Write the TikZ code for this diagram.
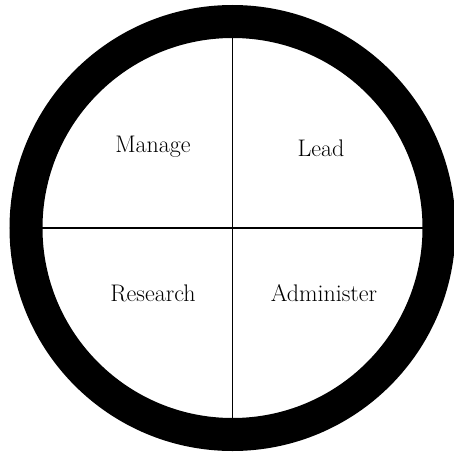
\documentclass[tikz,border=0pt]{standalone}
\begin{document}
\begin{tikzpicture}[x=1pt, y=-1pt]
    \tikzset{quadlabel/.style={font=\fontsize{24}{28}\selectfont}}
    \useasboundingbox (0,0) rectangle (453,455);
    % Tâm và các đầu mút của hai đường chia
    \coordinate (O) at (232.5,228);
    \coordinate (T) at (232.5,30);
    \coordinate (B) at (232.5,426);
    \coordinate (L) at (34,228);
    \coordinate (R) at (431,228);
    % Hai đường chia
    \draw[line width=1.5pt] (T) -- (B);
    \draw[line width=1.5pt] (L) -- (R);
    % Vành tròn đen
    \draw[line width=33pt] (O) circle (206.5);
    % Nhãn bốn góc
    \node[quadlabel] (manage) at (153,147) {Manage};
    \node[quadlabel] (lead) at (321,148) {Lead};
    \node[quadlabel] (research) at (153,293) {Research};
    \node[quadlabel] (administer) at (324,293) {Administer};
\end{tikzpicture}
\end{document}
